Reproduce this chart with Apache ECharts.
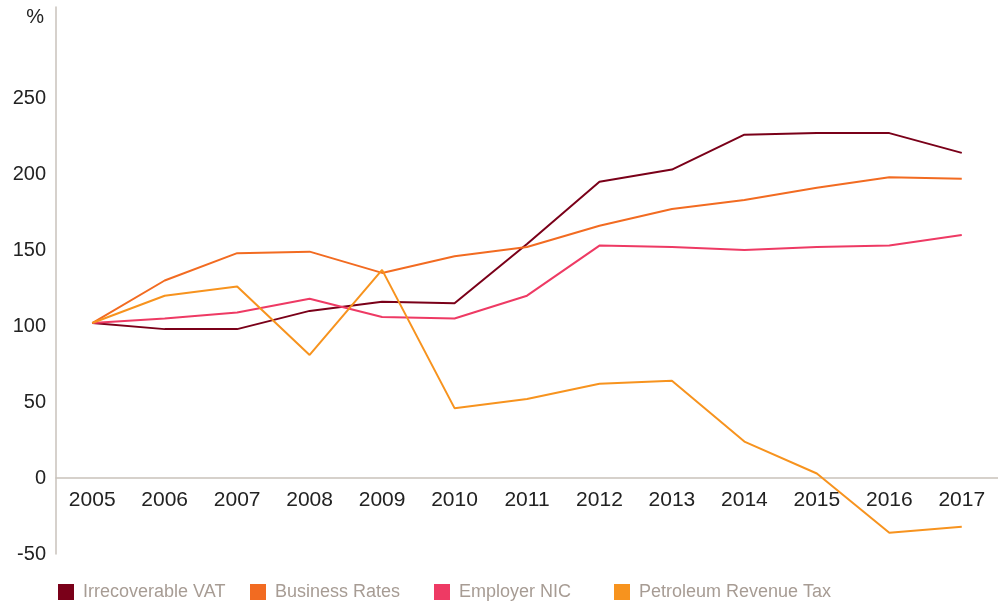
<!DOCTYPE html>
<html lang="en">
<head>
    <meta charset="UTF-8">
    <title>Tax index 2005-2017</title>
    <script src="https://cdn.jsdelivr.net/npm/echarts@6/dist/echarts.min.js"></script>
    <style>
        html, body { margin: 0; padding: 0; background: #ffffff; }
        #container { width: 998px; height: 603px; }
    </style>
</head>
<body>
<div id="container"></div>
<script>
    // data
    let years = ['2005', '2006', '2007', '2008', '2009', '2010', '2011', '2012', '2013', '2014', '2015', '2016', '2017'];
    let irrecoverableVat = [102, 98, 98, 110, 116, 115, 154, 195, 203, 226, 227, 227, 214];
    let businessRates = [102, 130, 148, 149, 135, 146, 152, 166, 177, 183, 191, 198, 197];
    let employerNic = [102, 105, 109, 118, 106, 105, 120, 153, 152, 150, 152, 153, 160];
    let petroleumRevenueTax = [102, 120, 126, 81, 137, 46, 52, 62, 64, 24, 3, -36, -32];

    let seriesNames = ['Irrecoverable VAT', 'Business Rates', 'Employer NIC', 'Petroleum Revenue Tax'];
    let seriesColors = ['#7a0019', '#f26b21', '#ee3a64', '#f7931e'];
    let seriesData = [irrecoverableVat, businessRates, employerNic, petroleumRevenueTax];
    let legendLeft = [58, 250, 434, 614];

    let chart = echarts.init(document.getElementById('container'));

    let textFont = 'Liberation Sans, Arial, Helvetica, sans-serif';
    let axisColor = '#c9c2bb';

    let option = {
        backgroundColor: '#ffffff',
        animation: false,
        grid: {
            left: 56,
            right: 0,
            top: 7,
            bottom: 49
        },
        legend: seriesNames.map(function (name, i) {
            return {
                data: [name],
                left: legendLeft[i],
                top: 583,
                padding: 0,
                icon: 'rect',
                itemWidth: 16,
                itemHeight: 16,
                selectedMode: false,
                textStyle: {
                    color: '#a79c94',
                    fontSize: 18,
                    fontFamily: textFont,
                    padding: [0, 0, 0, 4]
                }
            };
        }),
        xAxis: {
            type: 'category',
            data: years,
            boundaryGap: true,
            position: 'bottom',
            offset: -76,   // sit the axis on the zero line, labels included
            axisLine: {onZero: false, lineStyle: {color: axisColor, width: 1.5}},
            axisTick: {show: false},
            splitLine: {show: false},
            axisLabel: {
                color: '#222222',
                fontSize: 21,
                fontFamily: textFont,
                margin: 12
            }
        },
        yAxis: {
            type: 'value',
            min: -50,
            max: 310,
            interval: 50,
            name: '%',
            nameLocation: 'end',
            nameGap: -10,
            nameTextStyle: {
                color: '#222222',
                fontSize: 20,
                fontFamily: textFont,
                align: 'right',
                verticalAlign: 'middle',
                padding: [0, 12, 0, 0]
            },
            axisLine: {show: true, lineStyle: {color: axisColor, width: 1.5}},
            axisTick: {show: false},
            splitLine: {show: false},
            axisLabel: {
                color: '#222222',
                fontSize: 20,
                fontFamily: textFont,
                margin: 10,
                formatter: function (v) {
                    return v > 250 ? '' : String(v);
                }
            }
        },
        series: seriesNames.map(function (name, i) {
            return {
                name: name,
                type: 'line',
                data: seriesData[i],
                showSymbol: false,
                symbol: 'none',
                itemStyle: {color: seriesColors[i]},
                lineStyle: {color: seriesColors[i], width: 2}
            };
        })
    };
    chart.setOption(option);
</script>
</body>
</html>
